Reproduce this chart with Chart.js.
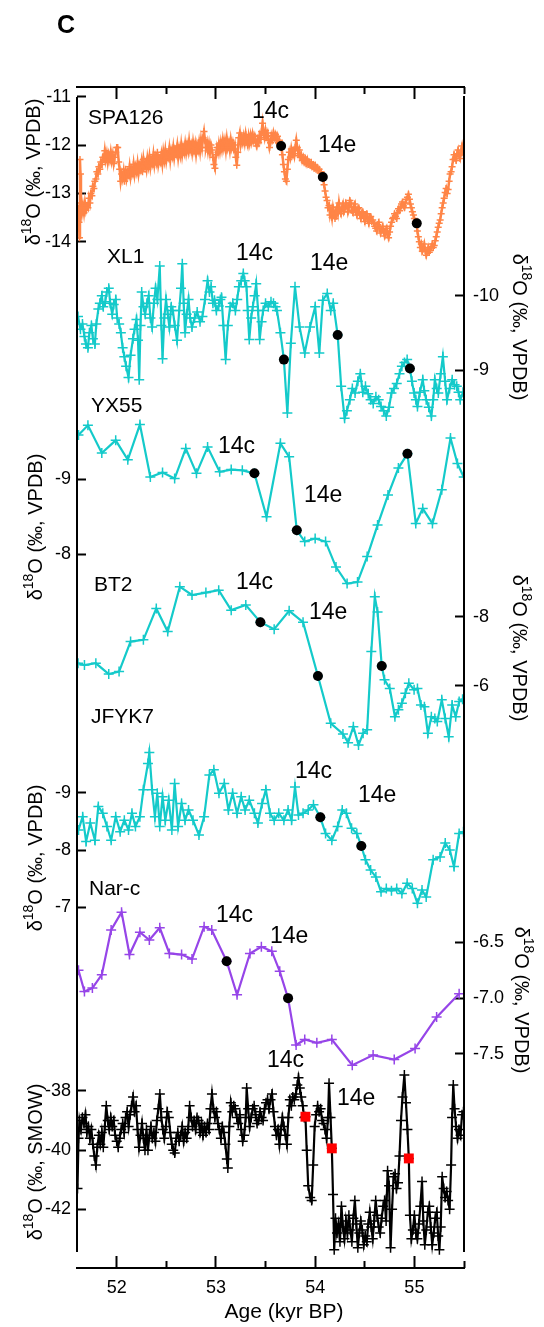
<!DOCTYPE html>
<html>
<head>
<meta charset="utf-8">
<script src="https://cdn.jsdelivr.net/npm/chart.js@4.4.1/dist/chart.umd.min.js"></script>
<style>
  html, body { margin: 0; padding: 0; background: #fff; }
  #wrap { width: 544px; height: 1327px; }
</style>
</head>
<body>
<div id="wrap"><canvas id="grafico" width="544" height="1327"></canvas></div>
<script>
// eixo comum (idade em kyr BP)
const idadeMin = 51.6, idadeMax = 55.5;
const marcasIdade = [52, 53, 54, 55];
const marcasIdadeMeio = [52.5, 53.5, 54.5, 55.5];

// SPA126 (serie densa)
const spaIdade = [
  51.605,51.612,51.62,51.625,51.63,51.635,51.64,51.65,51.66,51.67,51.68,51.69,51.70,51.71,51.72,51.73,51.74,51.75,51.76,51.77,51.78,51.79,51.80,51.81,51.82,51.83,51.84,51.85,51.86,51.87,51.88,51.89,51.90,51.91,51.92,51.93,51.94,51.95,51.96,51.97,51.98,51.99,52.00,
  52.01,52.02,52.03,52.04,52.05,52.06,52.07,52.08,52.09,52.10,52.11,52.12,52.13,52.14,52.15,52.16,52.17,52.18,52.19,52.20,52.21,52.22,52.23,52.24,52.25,52.26,52.27,52.28,52.29,52.30,52.31,52.32,52.33,52.34,52.35,52.36,52.37,52.38,52.39,52.40,52.41,52.42,52.43,52.44,52.45,52.46,52.47,52.48,52.49,52.50,
  52.51,52.52,52.53,52.54,52.55,52.56,52.57,52.58,52.59,52.60,52.61,52.62,52.63,52.64,52.65,52.66,52.67,52.68,52.69,52.70,52.71,52.72,52.73,52.74,52.75,52.76,52.77,52.78,52.79,52.80,52.81,52.82,52.83,52.84,52.85,52.86,52.87,52.88,52.89,52.90,52.91,52.92,52.93,52.94,52.95,52.96,52.97,52.98,52.99,53.00,
  53.01,53.02,53.03,53.04,53.05,53.06,53.07,53.08,53.09,53.10,53.11,53.12,53.13,53.14,53.15,53.16,53.17,53.18,53.19,53.20,53.21,53.22,53.23,53.24,53.25,53.26,53.27,53.28,53.29,53.30,53.31,53.32,53.33,53.34,53.35,53.36,53.37,53.38,53.39,53.40,53.41,53.42,53.43,53.44,53.45,53.46,53.47,53.48,53.49,53.50,
  53.51,53.52,53.53,53.54,53.55,53.56,53.57,53.58,53.59,53.60,53.61,53.62,53.63,53.64,53.657,
  53.67,53.68,53.69,53.70,53.71,53.72,53.73,53.74,53.75,53.76,53.77,53.78,53.79,53.80,53.81,53.82,53.83,53.84,53.85,53.86,53.87,53.88,53.89,53.90,53.91,53.92,53.93,53.94,53.95,53.96,53.97,53.98,53.99,54.00,54.01,54.02,54.03,54.04,54.05,54.06,54.077,54.09,54.10,54.11,54.12,54.13,54.14,54.15,54.16,
  54.17,54.18,54.19,54.20,54.21,54.22,54.23,54.24,54.25,54.26,54.27,54.28,54.29,54.30,54.31,54.32,54.33,54.34,54.35,54.36,54.37,54.38,54.39,54.40,54.41,54.42,54.43,54.44,54.45,54.46,54.47,54.48,54.49,54.50,
  54.51,54.52,54.53,54.54,54.55,54.56,54.57,54.58,54.59,54.60,54.61,54.62,54.63,54.64,54.65,54.66,54.67,54.68,54.69,54.70,54.71,54.72,54.73,54.74,54.75,54.76,54.77,54.78,54.79,54.80,54.81,54.82,54.83,54.84,54.85,54.86,54.87,54.88,54.89,54.90,54.91,54.92,54.93,54.94,54.95,54.96,54.97,54.98,54.99,55.00,
  55.01,55.024,55.03,55.04,55.05,55.06,55.07,55.08,55.09,55.10,55.11,55.12,55.13,55.14,55.15,55.16,55.17,55.18,55.19,55.20,55.21,55.22,55.23,55.24,55.25,55.26,55.27,55.28,55.29,55.30,55.31,55.32,55.33,55.34,55.35,55.36,55.37,55.38,55.39,55.40,55.41,55.42,55.43,55.44,55.45,55.46,55.47,55.48,55.49,55.50
];
const spaD18O = [
  -13.25,-13.45,-13.6,-13.92,-12.3,-12.6,-13.2,-13.4,-13.25,-13.4,-13.2,-13.35,-13.25,-13.3,-13.1,-13.2,-13.0,-13.05,-12.85,-12.9,-12.75,-12.7,-12.55,-12.6,-12.45,-12.5,-12.35,-12.4,-12.25,-12.3,-12.12,-12.3,-12.18,-12.35,-12.2,-12.3,-12.15,-12.32,-12.2,-12.38,-12.25,-12.15,-12.05,
  -12.05,-12.35,-12.5,-12.75,-12.6,-12.7,-12.55,-12.75,-12.5,-12.68,-12.55,-12.62,-12.45,-12.65,-12.5,-12.58,-12.4,-12.6,-12.45,-12.55,-12.38,-12.58,-12.42,-12.5,-12.35,-12.55,-12.3,-12.45,-12.38,-12.5,-12.28,-12.42,-12.25,-12.45,-12.3,-12.38,-12.2,-12.4,-12.25,-12.35,-12.15,-12.4,-12.28,-12.35,-12.2,-12.38,-12.15,-12.3,-12.12,-12.32,
  -12.18,-12.25,-12.08,-12.3,-12.12,-12.22,-12.05,-12.25,-12.1,-12.18,-12.02,-12.25,-12.08,-12.2,-12.0,-12.2,-12.05,-12.15,-11.98,-12.15,-12.0,-12.12,-11.92,-12.1,-12.0,-12.15,-11.95,-12.1,-11.98,-12.18,-12.0,-12.1,-11.95,-12.12,-11.9,-12.05,-11.85,-11.72,-11.9,-12.05,-11.95,-12.12,-11.98,-12.15,-12.0,-12.1,-12.25,-12.4,-12.48,-12.2,
  -12.05,-12.15,-11.98,-12.12,-11.95,-12.08,-11.9,-12.05,-11.92,-12.1,-11.88,-12.05,-11.95,-12.1,-11.9,-12.05,-11.95,-12.08,-12.0,-12.25,-12.42,-12.15,-11.85,-11.75,-11.98,-11.85,-11.95,-11.82,-11.95,-11.78,-11.92,-12.0,-11.82,-11.95,-11.8,-11.92,-11.78,-11.9,-11.82,-11.95,-12.02,-11.88,-11.95,-11.8,-11.88,-11.72,-11.55,-11.75,-11.85,-11.7,
  -11.82,-11.75,-11.9,-12.05,-11.95,-11.8,-11.88,-11.75,-11.85,-11.78,-11.9,-11.82,-11.95,-11.9,-12.02,
  -12.2,-12.4,-12.55,-12.7,-12.75,-12.5,-12.3,-12.15,-12.25,-12.08,-12.2,-12.12,-12.22,-12.05,-11.9,-12.05,-12.18,-12.1,-12.25,-12.2,-12.32,-12.25,-12.35,-12.28,-12.38,-12.3,-12.4,-12.35,-12.42,-12.36,-12.45,-12.4,-12.48,-12.42,-12.5,-12.46,-12.52,-12.5,-12.58,-12.55,-12.66,-12.82,-12.95,-13.08,-13.15,-13.3,-13.25,-13.45,-13.35,
  -13.5,-13.3,-13.42,-13.52,-13.35,-13.28,-13.4,-13.2,-13.35,-13.42,-13.3,-13.22,-13.38,-13.32,-13.2,-13.25,-13.38,-13.28,-13.15,-13.2,-13.35,-13.4,-13.28,-13.22,-13.38,-13.45,-13.32,-13.3,-13.45,-13.52,-13.4,-13.38,-13.5,-13.58,
  -13.45,-13.42,-13.55,-13.62,-13.5,-13.48,-13.58,-13.55,-13.62,-13.68,-13.72,-13.78,-13.65,-13.6,-13.72,-13.82,-13.75,-13.68,-13.8,-13.88,-13.78,-13.72,-13.85,-13.92,-13.8,-13.68,-13.6,-13.52,-13.5,-13.42,-13.48,-13.52,-13.4,-13.32,-13.36,-13.28,-13.22,-13.18,-13.26,-13.3,-13.2,-13.12,-13.08,-13.02,-13.12,-13.22,-13.3,-13.38,-13.45,-13.52,
  -13.58,-13.62,-13.78,-13.9,-14.0,-14.12,-14.05,-14.2,-14.15,-14.05,-14.18,-14.28,-14.2,-14.12,-14.22,-14.18,-14.1,-14.05,-14.12,-14.08,-13.98,-13.9,-13.8,-13.7,-13.62,-13.55,-13.42,-13.3,-13.2,-13.1,-12.98,-12.9,-13.0,-12.92,-12.75,-12.6,-12.55,-12.45,-12.3,-12.2,-12.28,-12.32,-12.18,-12.1,-12.22,-12.28,-12.12,-12.02,-12.15,-12.2
];
const spaMarcoIdade = [53.657, 54.077, 55.024];
const spaMarcoD18O = [-12.02, -12.66, -13.62];

// XL1
const xl1Idade = [
  51.61,51.635,51.655,51.675,51.69,51.71,51.725,51.745,51.76,51.78,51.795,51.815,51.83,51.85,51.865,51.885,51.9,51.92,51.935,51.955,51.97,51.99,52.005,52.025,52.042,52.06,52.077,52.095,52.119,52.14,
  52.164,52.18,52.199,52.215,52.227,52.24,52.252,52.27,52.287,52.305,52.322,52.34,52.357,52.375,52.392,52.41,52.434,52.45,52.462,52.48,52.497,52.515,52.531,52.55,52.566,52.585,52.608,52.63,52.648,52.661,
  52.675,52.689,52.705,52.724,52.74,52.759,52.785,52.811,52.84,52.864,52.89,52.916,52.935,52.951,52.97,52.986,53.005,53.028,53.045,53.056,53.075,53.098,53.12,53.143,53.17,53.196,53.215,53.231,53.255,53.276,
  53.29,53.308,53.32,53.336,53.355,53.371,53.39,53.406,53.425,53.441,53.46,53.476,53.5,53.528,53.555,53.58,53.6,53.615,53.65,53.685,
  53.72,53.755,53.797,53.843,53.895,53.948,54.0,54.042,54.077,54.122,54.157,54.182,54.227,54.262,54.297,54.32,54.35,54.375,54.402,54.43,54.455,54.48,54.507,54.535,54.559,54.585,54.612,54.64,54.664,54.69,
  54.717,54.745,54.769,54.795,54.822,54.85,54.874,54.9,54.927,54.955,54.975,54.997,55.015,55.031,55.055,55.084,55.1,55.119,55.145,55.171,55.19,55.206,55.225,55.241,55.265,55.287,55.31,55.329,55.355,55.381,
  55.405,55.427,55.445,55.462,55.49
];
const xl1D18O = [
  -9.72,-9.55,-9.62,-9.45,-9.35,-9.3,-9.5,-9.6,-9.42,-9.35,-9.62,-9.82,-9.9,-10.0,-9.85,-9.92,-10.05,-10.1,-9.9,-9.75,-9.88,-9.95,-9.7,-9.62,-9.5,-9.3,-9.18,-9.05,-8.9,-9.2,
  -9.42,-9.55,-9.68,-9.4,-8.87,-9.6,-10.05,-9.85,-9.75,-9.9,-10.0,-9.7,-9.58,-9.9,-10.1,-9.95,-10.4,-9.6,-9.15,-9.7,-9.95,-9.75,-9.58,-9.85,-9.8,-9.6,-9.4,-9.8,-10.1,-10.43,
  -9.9,-9.5,-9.75,-9.95,-9.7,-9.58,-9.7,-9.78,-9.65,-9.72,-9.95,-10.2,-10.05,-10.12,-9.9,-9.94,-9.8,-9.86,-9.95,-9.98,-9.6,-9.14,-9.6,-9.85,-9.9,-9.8,-9.95,-10.12,-10.2,-10.3,
  -10.2,-10.12,-9.8,-9.41,-9.7,-9.85,-10.0,-10.16,-9.8,-9.41,-9.65,-9.8,-9.9,-9.85,-9.92,-9.9,-9.85,-9.8,-9.5,-9.14,
  -8.42,-9.36,-10.12,-9.58,-9.23,-9.58,-9.85,-9.23,-9.94,-10.03,-9.8,-9.9,-9.47,-8.78,-8.35,-8.45,-8.6,-8.75,-8.69,-8.85,-8.95,-8.7,-8.78,-8.68,-8.6,-8.55,-8.64,-8.6,-8.51,-8.45,
  -8.38,-8.5,-8.69,-8.75,-8.82,-8.95,-9.05,-9.1,-9.14,-9.02,-8.85,-8.69,-8.6,-8.51,-8.7,-8.87,-8.72,-8.6,-8.5,-8.38,-8.6,-8.87,-8.75,-8.69,-8.95,-9.18,-8.85,-8.6,-8.75,-8.87,
  -8.8,-8.78,-8.7,-8.6,-8.7
];
const xl1MarcoIdade = [53.685, 54.227, 54.955];
const xl1MarcoD18O = [-9.14, -9.47, -9.02];

// YX55
const yx55Idade = [51.615,51.71,51.85,51.99,52.112,52.234,52.339,52.462,52.584,52.696,52.804,52.916,53.038,53.154,53.266,53.388,53.51,53.65,53.738,53.815,53.895,54.0,54.105,54.21,54.322,54.427,54.524,54.629,54.734,54.839,54.93,55.014,55.084,55.182,55.276,55.364,55.434,55.497];
const yx55D18O = [-9.59,-9.72,-9.35,-9.52,-9.26,-9.73,-9.03,-9.09,-9.01,-9.41,-9.08,-9.43,-9.1,-9.13,-9.12,-9.08,-8.5,-9.48,-9.3,-8.32,-8.17,-8.21,-8.17,-7.83,-7.61,-7.63,-7.97,-8.39,-8.79,-9.15,-9.34,-8.41,-8.61,-8.41,-8.86,-9.55,-9.21,-9.03];
const yx55MarcoIdade = [53.388, 53.815, 54.93];
const yx55MarcoD18O = [-9.08, -8.32, -9.34];

// BT2
const bt2Idade = [51.61,51.675,51.79,51.92,52.024,52.14,52.269,52.399,52.514,52.636,52.759,52.899,53.028,53.154,53.301,53.448,53.587,53.738,53.878,54.028,54.157,54.28,54.332,54.385,54.437,54.483,54.524,54.566,54.601,54.629,54.671,54.699,54.752,54.804,54.839,54.874,54.909,54.944,54.997,55.031,55.066,55.101,55.136,55.171,55.206,55.231,55.276,55.311,55.346,55.381,55.416,55.451,55.486];
const bt2D18O = [-6.65,-6.6,-6.65,-6.34,-6.41,-7.28,-7.33,-8.24,-7.57,-8.87,-8.63,-8.7,-8.77,-8.19,-8.34,-7.84,-7.64,-8.17,-7.84,-6.28,-4.91,-4.6,-4.35,-4.81,-4.28,-4.62,-4.72,-6.99,-8.58,-8.14,-6.57,-6.17,-5.92,-5.1,-5.3,-5.49,-5.78,-6.07,-5.88,-5.92,-5.44,-5.39,-4.62,-5.1,-5.05,-4.96,-5.59,-5.05,-4.52,-5.44,-5.1,-5.54,-5.61];
const bt2MarcoIdade = [53.448, 54.028, 54.671];
const bt2MarcoD18O = [-7.84, -6.28, -6.57];

// JFYK7
const jfIdade = [51.615,51.657,51.692,51.734,51.78,51.815,51.86,51.902,51.944,51.99,52.035,52.077,52.119,52.154,52.189,52.234,52.269,52.315,52.329,52.357,52.385,52.409,52.434,52.462,52.49,52.524,52.556,52.584,52.619,52.654,52.689,52.724,52.769,52.829,52.881,52.934,52.979,53.031,53.084,53.126,53.168,53.213,53.255,53.294,53.336,53.388,53.423,53.465,53.503,53.545,53.587,53.633,53.685,53.727,53.762,53.797,53.832,53.878,53.93,53.983,54.052,54.105,54.168,54.227,54.273,54.315,54.367,54.42,54.465,54.507,54.559,54.612,54.664,54.717,54.769,54.822,54.874,54.927,54.979,55.031,55.077,55.119,55.189,55.259,55.311,55.357,55.399,55.451,55.495];
const jfD18O = [-8.35,-8.58,-8.15,-8.47,-8.17,-8.76,-8.64,-8.41,-8.17,-8.58,-8.32,-8.52,-8.35,-8.64,-8.41,-8.58,-9.05,-9.51,-9.7,-9.05,-8.58,-8.99,-8.41,-8.93,-8.52,-8.87,-8.35,-9.16,-8.41,-8.81,-8.52,-8.7,-8.52,-8.26,-8.58,-9.31,-9.4,-8.99,-9.16,-8.7,-8.99,-8.64,-8.93,-8.7,-8.87,-8.64,-8.47,-8.81,-9.05,-8.64,-8.52,-8.64,-8.52,-8.7,-8.52,-9.1,-8.61,-8.64,-8.7,-8.79,-8.57,-8.29,-8.17,-8.41,-8.7,-8.64,-8.38,-8.29,-8.07,-7.83,-7.65,-7.53,-7.27,-7.33,-7.29,-7.33,-7.24,-7.42,-7.33,-7.07,-7.3,-7.18,-7.83,-7.88,-8.12,-8.0,-7.71,-8.29,-8.32];
const jfMarcoIdade = [54.052, 54.465];
const jfMarcoD18O = [-8.57, -8.07];

// Nar-c
const narIdade = [51.615,51.675,51.755,51.85,51.944,52.049,52.129,52.234,52.329,52.434,52.531,52.654,52.759,52.881,52.958,53.108,53.213,53.343,53.458,53.563,53.643,53.727,53.808,53.895,54.017,54.168,54.374,54.584,54.797,55.007,55.224,55.451];
const narD18O = [-6.75,-6.94,-6.91,-6.79,-6.39,-6.23,-6.61,-6.41,-6.48,-6.37,-6.6,-6.61,-6.65,-6.36,-6.39,-6.67,-6.97,-6.6,-6.54,-6.58,-6.76,-7.0,-7.42,-7.37,-7.4,-7.37,-7.6,-7.51,-7.55,-7.45,-7.17,-6.96];
const narMarcoIdade = [53.108, 53.727];
const narMarcoD18O = [-6.67, -7.0];

// testemunho de gelo (SMOW)
const geloIdade = [
  51.605,51.615,51.625,51.64,51.655,51.67,51.685,51.70,51.715,51.73,51.745,51.76,51.775,51.79,51.805,51.82,51.835,51.85,51.865,51.88,51.895,51.91,51.925,51.94,51.955,51.97,51.985,52.00,52.015,52.03,
  52.045,52.06,52.075,52.09,52.105,52.12,52.135,52.15,52.165,52.18,52.195,52.21,52.225,52.24,52.255,52.27,52.285,52.30,52.315,52.33,52.345,52.36,52.375,52.39,52.405,52.42,52.435,52.45,52.465,52.48,
  52.495,52.51,52.525,52.54,52.555,52.57,52.585,52.60,52.615,52.63,52.645,52.66,52.675,52.69,52.705,52.72,52.735,52.75,52.765,52.78,52.795,52.81,52.825,52.84,52.855,52.87,52.885,52.90,52.915,52.93,
  52.945,52.96,52.975,52.99,53.005,53.02,53.035,53.05,53.065,53.08,53.095,53.11,53.12,53.135,53.15,53.165,53.18,53.195,53.21,53.225,53.24,53.255,53.27,53.285,53.30,53.31,53.325,53.34,53.355,53.37,
  53.385,53.40,53.415,53.43,53.445,53.46,53.475,53.49,53.505,53.52,53.535,53.55,53.565,53.58,53.595,53.61,53.625,53.64,53.655,53.67,53.685,53.70,53.715,53.73,53.745,53.76,53.775,53.79,53.805,53.82,
  53.832,53.845,53.86,53.875,53.89,53.902,53.915,53.93,53.95,53.965,53.98,53.995,54.01,54.025,54.04,54.055,54.07,54.085,54.10,54.115,54.13,54.14,54.155,54.168,54.18,54.192,54.205,54.22,54.235,54.25,
  54.265,54.28,54.295,54.31,54.325,54.34,54.355,54.37,54.385,54.40,54.415,54.43,54.445,54.46,54.475,54.49,54.505,54.52,54.535,54.55,54.565,54.58,54.595,54.61,54.625,54.64,54.655,54.67,54.685,54.70,
  54.715,54.73,54.745,54.76,54.775,54.79,54.805,54.82,54.835,54.85,54.865,54.88,54.899,54.915,54.93,54.944,54.955,54.97,54.985,55.00,55.015,55.03,55.045,55.06,55.077,55.09,55.105,55.12,55.135,55.15,
  55.165,55.18,55.195,55.21,55.225,55.24,55.252,55.265,55.28,55.295,55.31,55.325,55.34,55.355,55.37,55.38,55.392,55.405,55.42,55.435,55.45,55.465,55.48,55.495
];
const geloD18O = [
  -41.3,-39.6,-39.0,-39.3,-38.9,-39.1,-38.8,-39.4,-39.2,-39.6,-39.3,-39.8,-40.2,-40.5,-39.9,-39.5,-39.8,-39.4,-39.9,-39.2,-38.5,-39.0,-39.3,-38.9,-39.2,-39.0,-39.5,-39.7,-39.9,-39.6,
  -39.3,-39.1,-39.4,-38.9,-38.7,-39.2,-38.8,-38.5,-38.2,-38.7,-38.5,-39.3,-39.9,-39.5,-39.1,-39.6,-40.0,-39.3,-40.0,-39.5,-39.2,-39.6,-39.4,-39.7,-39.0,-38.6,-38.1,-38.9,-39.3,-39.6,
  -39.2,-38.7,-38.9,-39.4,-39.8,-40.0,-40.1,-39.6,-39.4,-39.7,-39.5,-39.2,-39.7,-39.4,-39.6,-39.3,-38.5,-38.9,-39.2,-39.0,-39.3,-38.9,-39.0,-39.4,-39.1,-39.5,-39.2,-39.4,-39.1,-39.3,
  -38.6,-38.1,-38.6,-38.9,-38.7,-39.1,-39.3,-39.6,-39.2,-39.4,-39.8,-40.3,-40.6,-39.2,-38.4,-38.7,-38.5,-38.6,-38.9,-39.1,-38.8,-39.3,-39.7,-39.5,-38.9,-37.9,-38.6,-39.2,-38.9,-38.6,
  -38.5,-38.8,-39.1,-39.0,-38.7,-38.9,-39.0,-38.6,-38.4,-38.3,-38.6,-38.3,-38.1,-38.7,-39.2,-39.5,-39.3,-39.8,-39.3,-38.9,-39.2,-39.5,-39.8,-38.9,-38.3,-38.5,-38.2,-38.3,-38.1,-37.8,
  -37.55,-37.9,-38.2,-38.5,-38.9,-38.87,-40.0,-41.2,-41.6,-41.7,-40.5,-39.2,-38.8,-38.5,-38.7,-38.6,-39.0,-39.1,-39.3,-39.6,-38.9,-37.74,-38.9,-39.94,-41.5,-43.37,-42.3,-42.8,-42.5,-43.1,
  -41.9,-42.6,-43.0,-42.4,-42.8,-42.2,-42.7,-43.1,-42.3,-41.7,-42.5,-43.3,-42.8,-42.4,-42.7,-43.2,-42.9,-43.1,-42.5,-42.1,-42.6,-43.0,-42.4,-41.7,-42.2,-42.6,-42.8,-42.3,-41.9,-41.7,
  -42.4,-40.7,-41.2,-43.3,-42.0,-40.9,-40.8,-41.3,-41.1,-40.2,-39.0,-38.2,-37.46,-38.4,-39.3,-40.28,-42.2,-43.0,-42.7,-42.2,-42.8,-43.0,-42.5,-41.9,-41.06,-42.4,-43.2,-42.7,-42.1,-41.9,
  -42.6,-43.2,-42.8,-42.3,-42.1,-42.9,-43.37,-42.6,-40.9,-41.3,-41.6,-41.4,-41.7,-42.0,-40.5,-38.9,-37.8,-38.6,-39.2,-39.6,-39.3,-39.5,-38.8,-38.7
];
const geloMarcoIdade = [53.902, 54.168, 54.944];
const geloMarcoD18O = [-38.87, -39.94, -40.28];

const corLaranja = '#FF8547';
const corCiano = '#14CACA';
const corRoxo = '#9645E8';
const fonte = '"Liberation Sans", Arial, Helvetica, sans-serif';

Chart.defaults.font.family = fonte;
Chart.defaults.color = '#000';

function serie(idades, valores) {
  return idades.map((x, i) => ({ x: x, y: valores[i] }));
}

function linha(idades, valores, cor, eixo, raio, grossura) {
  return {
    data: serie(idades, valores), yAxisID: eixo,
    borderColor: cor, backgroundColor: cor, borderWidth: grossura,
    pointStyle: 'cross', pointRadius: raio, pointBorderWidth: 1.5,
    pointBorderColor: cor, tension: 0, fill: false, order: 2
  };
}

function marcos(idades, valores, eixo, cor, estilo, raio) {
  return {
    data: serie(idades, valores), yAxisID: eixo, showLine: false,
    pointStyle: estilo, pointRadius: raio, pointBorderWidth: 0,
    pointBackgroundColor: cor, pointBorderColor: cor, order: 1
  };
}

// cada registro tem o seu eixo, ocupando a altura toda; so as marcas escolhidas aparecem
function eixoY(lado, min, max, inverter, marcas, casas) {
  return {
    type: 'linear', position: lado, min: min, max: max, reverse: inverter,
    afterBuildTicks: s => { s.ticks = marcas.map(v => ({ value: v })); },
    afterFit: s => { s.width = 0; },
    border: { display: false },
    grid: { drawOnChartArea: false, drawTicks: true, tickLength: -9, tickWidth: 2, tickColor: '#000' },
    ticks: {
      padding: lado === 'left' ? 15 : 18, font: { size: 18 }, color: '#000',
      callback: v => casas ? v.toFixed(casas) : String(v)
    }
  };
}

function eixoX(lado, marcas, comprimento, rotulos, borda, altura, peso) {
  return {
    type: 'linear', position: lado, min: idadeMin, max: idadeMax, weight: peso,
    afterBuildTicks: s => { s.ticks = marcas.map(v => ({ value: v })); },
    afterFit: s => { s.height = altura; },
    border: { display: borda, width: 2, color: '#000' },
    grid: { drawOnChartArea: false, drawTicks: true, tickLength: comprimento, tickWidth: 2, tickColor: '#000' },
    ticks: { display: rotulos, padding: 21, maxRotation: 0, font: { size: 18 }, color: '#000' }
  };
}

// os eixos y tem largura zero no layout; aqui eles ganham a margem toda para os rotulos
const eixosLaterais = {
  id: 'eixosLaterais',
  afterLayout(chart) {
    const a = chart.chartArea;
    Object.values(chart.scales).forEach(s => {
      if (s.position === 'left') { s.left = 0; s.right = a.left; s.width = a.left; }
      if (s.position === 'right') { s.left = a.right; s.right = chart.width; s.width = chart.width - a.right; }
    });
  }
};

const rotulos = [
  ['SPA126', 88, 118, 21], ['14c', 252, 112, 23], ['14e', 318, 146, 23],
  ['XL1', 107, 257, 21], ['14c', 236, 254, 23], ['14e', 310, 264, 23],
  ['YX55', 91, 406, 21], ['14c', 218, 447, 23], ['14e', 304, 496, 23],
  ['BT2', 94, 585, 21], ['14c', 236, 583, 23], ['14e', 309, 613, 23],
  ['JFYK7', 91, 717, 21], ['14c', 295, 772, 23], ['14e', 358, 796, 23],
  ['Nar-c', 89, 889, 21], ['14c', 216, 916, 23], ['14e', 270, 937, 23],
  ['14c', 267, 1061, 23], ['14e', 337, 1099, 23]
];

const titulos = [
  // x, y centro, lado, unidade
  [33, 172, 'left', 'VPDB'], [520, 327, 'right', 'VPDB'],
  [35, 527, 'left', 'VPDB'], [520, 648, 'right', 'VPDB'],
  [35, 858, 'left', 'VPDB'], [522, 1000, 'right', 'VPDB'],
  [35, 1162, 'left', 'SMOW']
];

function tituloDelta(ctx, x, y, lado, unidade) {
  const resto = 'O (\u2030, ' + unidade + ')';
  ctx.save();
  ctx.translate(x, y);
  ctx.rotate(lado === 'left' ? -Math.PI / 2 : Math.PI / 2);
  ctx.textAlign = 'left';
  ctx.textBaseline = 'alphabetic';
  ctx.font = '20px ' + fonte;
  const wD = ctx.measureText('\u03b4').width;
  const wR = ctx.measureText(resto).width;
  ctx.font = '14px ' + fonte;
  const wS = ctx.measureText('18').width;
  let px = -(wD + wS + wR) / 2;
  ctx.font = '20px ' + fonte;
  ctx.fillText('\u03b4', px, 7);
  px += wD;
  ctx.font = '14px ' + fonte;
  ctx.fillText('18', px, -2);
  px += wS;
  ctx.font = '20px ' + fonte;
  ctx.fillText(resto, px, 7);
  ctx.restore();
}

const moldura = {
  id: 'moldura',
  afterDraw(chart) {
    const { ctx, chartArea: a } = chart;
    ctx.save();
    ctx.strokeStyle = '#000';
    ctx.lineWidth = 2;
    ctx.beginPath();
    ctx.moveTo(a.left, a.top + 10);
    ctx.lineTo(a.left, a.bottom - 16);
    ctx.moveTo(a.right, a.top + 9);
    ctx.lineTo(a.right, a.bottom - 16);
    ctx.stroke();

    ctx.fillStyle = '#000';
    ctx.textBaseline = 'middle';
    ctx.textAlign = 'left';
    rotulos.forEach(([t, x, y, s]) => {
      ctx.font = s + 'px ' + fonte;
      ctx.fillText(t, x, y);
    });
    ctx.font = 'bold 25px ' + fonte;
    ctx.fillText('C', 57, 26);

    ctx.textAlign = 'center';
    ctx.font = '21px ' + fonte;
    ctx.fillText('Age (kyr BP)', 284, 1312);

    titulos.forEach(([x, y, lado, u]) => tituloDelta(ctx, x, y, lado, u));
    ctx.restore();
  }
};

function criarGrafico() {
  const ctx = document.getElementById('grafico').getContext('2d');
  new Chart(ctx, {
    type: 'line',
    data: {
      datasets: [
        marcos(spaMarcoIdade, spaMarcoD18O, 'ySpa', '#000', 'circle', 5),
        marcos(xl1MarcoIdade, xl1MarcoD18O, 'yXl1', '#000', 'circle', 5),
        marcos(yx55MarcoIdade, yx55MarcoD18O, 'yYx55', '#000', 'circle', 5),
        marcos(bt2MarcoIdade, bt2MarcoD18O, 'yBt2', '#000', 'circle', 5),
        marcos(jfMarcoIdade, jfMarcoD18O, 'yJf', '#000', 'circle', 5),
        marcos(narMarcoIdade, narMarcoD18O, 'yNar', '#000', 'circle', 5),
        marcos(geloMarcoIdade, geloMarcoD18O, 'yGelo', '#FF0000', 'rect', 7),
        linha(spaIdade, spaD18O, corLaranja, 'ySpa', 3.5, 2.5),
        linha(xl1Idade, xl1D18O, corCiano, 'yXl1', 5, 2.2),
        linha(yx55Idade, yx55D18O, corCiano, 'yYx55', 5, 2.2),
        linha(bt2Idade, bt2D18O, corCiano, 'yBt2', 5, 2.2),
        linha(jfIdade, jfD18O, corCiano, 'yJf', 5, 2.2),
        linha(narIdade, narD18O, corRoxo, 'yNar', 5, 2.2),
        linha(geloIdade, geloD18O, '#000', 'yGelo', 5, 2.2)
      ]
    },
    options: {
      responsive: false,
      animation: false,
      devicePixelRatio: 1,
      layout: { padding: { left: 77, right: 80, top: 87, bottom: 0 } },
      plugins: { legend: { display: false }, tooltip: { enabled: false } },
      scales: {
        xMeio: eixoX('bottom', marcasIdadeMeio, -7, false, false, 0, 0),
        x: eixoX('bottom', marcasIdade, -12, true, true, 59, 1),
        xTopo: eixoX('top', marcasIdade, -12, false, true, 0, 0),
        xTopoMeio: eixoX('top', marcasIdadeMeio, -7, false, false, 0, 0),
        ySpa: eixoY('left', -35.235, -10.799, false, [-11, -12, -13, -14], 0),
        yXl1: eixoY('right', -12.809, 3.086, true, [-10, -9], 0),
        yYx55: eixoY('left', -14.231, 1.516, true, [-9, -8], 0),
        yBt2: eixoY('right', -23.354, 10.878, true, [-8, -6], 0),
        yJf: eixoY('left', -21.316, -0.705, true, [-9, -8, -7], 0),
        yNar: eixoY('right', -9.416, 1.157, false, [-6.5, -7.0, -7.5], 1),
        yGelo: eixoY('left', -43.985, -4.052, false, [-38, -40, -42], 0)
      }
    },
    plugins: [eixosLaterais, moldura]
  });
}

document.addEventListener('DOMContentLoaded', criarGrafico);
</script>
</body>
</html>
